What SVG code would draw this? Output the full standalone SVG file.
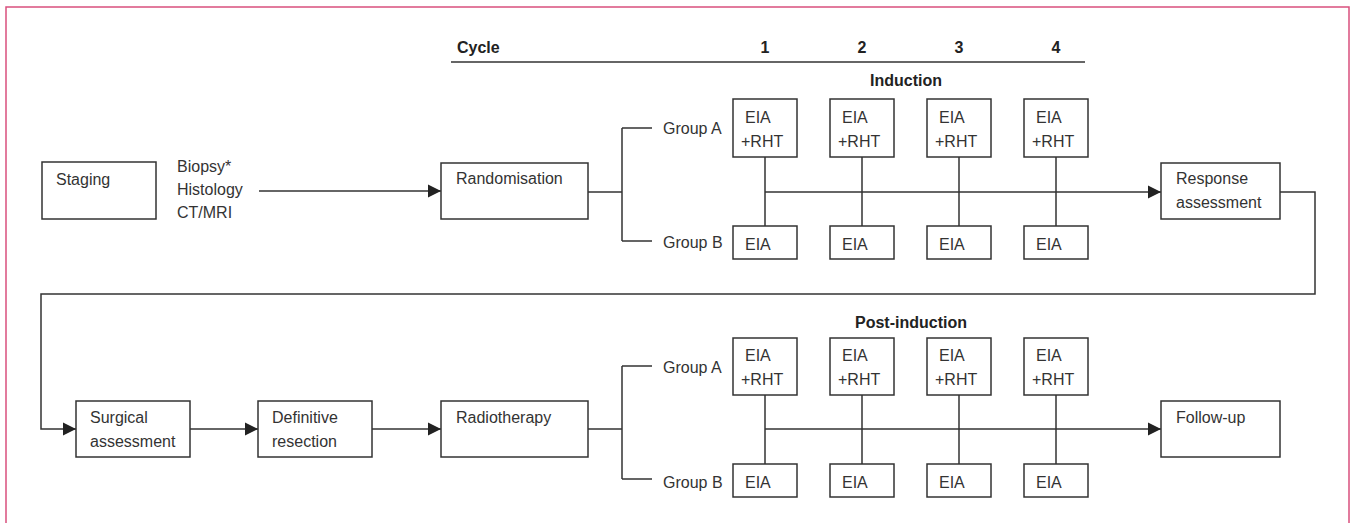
<svg xmlns="http://www.w3.org/2000/svg" width="1353" height="523" viewBox="0 0 1353 523">
<style>
.b{fill:#fff;stroke:#333;stroke-width:1.5}
.t{font-family:"Liberation Sans",Arial,sans-serif;font-size:16px;fill:#333}
.h{font-family:"Liberation Sans",Arial,sans-serif;font-size:16px;font-weight:bold;fill:#222}
.c{fill:none;stroke:#333;stroke-width:1.5}
</style>
<defs>
<marker id="ar" markerUnits="userSpaceOnUse" markerWidth="14" markerHeight="14" refX="13" refY="7" orient="auto">
<path d="M0,0.5 L13,7 L0,13.5 z" fill="#222"/>
</marker>
</defs>
<rect width="1353" height="523" fill="#fff"/>
<path d="M6,523 V7 H1349 V523" fill="none" stroke="#d9507e" stroke-width="1.5"/>

<g id="header">
<text class="h" x="457" y="53">Cycle</text>
<text class="h" x="765" y="53" text-anchor="middle">1</text>
<text class="h" x="862" y="53" text-anchor="middle">2</text>
<text class="h" x="959" y="53" text-anchor="middle">3</text>
<text class="h" x="1056" y="53" text-anchor="middle">4</text>
<line x1="451" y1="62" x2="1085" y2="62" stroke="#333" stroke-width="1.5"/>
<text class="h" x="906" y="86" text-anchor="middle">Induction</text>
<text class="h" x="911" y="328" text-anchor="middle">Post-induction</text>
</g>

<g id="connectors">
<line class="c" x1="259" y1="191" x2="441" y2="191" marker-end="url(#ar)"/>
<path class="c" d="M588,192 H622 M622,128 V241 M622,128 H652 M622,241 H652"/>
<path class="c" d="M765,157 V226 M862,157 V226 M959,157 V226 M1056,157 V226"/>
<line class="c" x1="765" y1="192" x2="1161" y2="192" marker-end="url(#ar)"/>
<path class="c" d="M1280,192 H1315 V294 H41 V429 H76" marker-end="url(#ar)"/>
<line class="c" x1="190" y1="429" x2="258" y2="429" marker-end="url(#ar)"/>
<line class="c" x1="372" y1="429" x2="441" y2="429" marker-end="url(#ar)"/>
<path class="c" d="M588,429 H622 M622,366 V479 M622,366 H652 M622,479 H652"/>
<path class="c" d="M765,395 V464 M862,395 V464 M959,395 V464 M1056,395 V464"/>
<line class="c" x1="765" y1="429" x2="1161" y2="429" marker-end="url(#ar)"/>
</g>

<g id="staging">
<rect class="b" x="42" y="162" width="114" height="57"/>
<text class="t" x="56" y="185">Staging</text>
</g>
<g id="staging-label">
<text class="t" x="177" y="172">Biopsy*</text>
<text class="t" x="177" y="195">Histology</text>
<text class="t" x="177" y="218">CT/MRI</text>
</g>

<g id="randomisation">
<rect class="b" x="441" y="163" width="147" height="56"/>
<text class="t" x="456" y="184">Randomisation</text>
</g>
<g id="groups-induction">
<text class="t" x="663" y="134">Group A</text>
<text class="t" x="663" y="248">Group B</text>
</g>

<g id="ind-a1"><rect class="b" x="733" y="99" width="64" height="58"/><text class="t" x="745" y="123">EIA</text><text class="t" x="741" y="147">+RHT</text></g>
<g id="ind-a2"><rect class="b" x="830" y="99" width="64" height="58"/><text class="t" x="842" y="123">EIA</text><text class="t" x="838" y="147">+RHT</text></g>
<g id="ind-a3"><rect class="b" x="927" y="99" width="64" height="58"/><text class="t" x="939" y="123">EIA</text><text class="t" x="935" y="147">+RHT</text></g>
<g id="ind-a4"><rect class="b" x="1024" y="99" width="64" height="58"/><text class="t" x="1036" y="123">EIA</text><text class="t" x="1032" y="147">+RHT</text></g>
<g id="ind-b1"><rect class="b" x="733" y="226" width="64" height="33"/><text class="t" x="745" y="250">EIA</text></g>
<g id="ind-b2"><rect class="b" x="830" y="226" width="64" height="33"/><text class="t" x="842" y="250">EIA</text></g>
<g id="ind-b3"><rect class="b" x="927" y="226" width="64" height="33"/><text class="t" x="939" y="250">EIA</text></g>
<g id="ind-b4"><rect class="b" x="1024" y="226" width="64" height="33"/><text class="t" x="1036" y="250">EIA</text></g>

<g id="response">
<rect class="b" x="1161" y="163" width="119" height="56"/>
<text class="t" x="1176" y="184">Response</text>
<text class="t" x="1176" y="208">assessment</text>
</g>

<g id="surgical">
<rect class="b" x="76" y="401" width="114" height="56"/>
<text class="t" x="90" y="423">Surgical</text>
<text class="t" x="90" y="447">assessment</text>
</g>
<g id="definitive">
<rect class="b" x="258" y="401" width="114" height="56"/>
<text class="t" x="272" y="423">Definitive</text>
<text class="t" x="272" y="447">resection</text>
</g>
<g id="radiotherapy">
<rect class="b" x="441" y="401" width="147" height="56"/>
<text class="t" x="456" y="423">Radiotherapy</text>
</g>
<g id="groups-post">
<text class="t" x="663" y="373">Group A</text>
<text class="t" x="663" y="488">Group B</text>
</g>

<g id="post-a1"><rect class="b" x="733" y="338" width="64" height="57"/><text class="t" x="745" y="361">EIA</text><text class="t" x="741" y="385">+RHT</text></g>
<g id="post-a2"><rect class="b" x="830" y="338" width="64" height="57"/><text class="t" x="842" y="361">EIA</text><text class="t" x="838" y="385">+RHT</text></g>
<g id="post-a3"><rect class="b" x="927" y="338" width="64" height="57"/><text class="t" x="939" y="361">EIA</text><text class="t" x="935" y="385">+RHT</text></g>
<g id="post-a4"><rect class="b" x="1024" y="338" width="64" height="57"/><text class="t" x="1036" y="361">EIA</text><text class="t" x="1032" y="385">+RHT</text></g>
<g id="post-b1"><rect class="b" x="733" y="464" width="64" height="33"/><text class="t" x="745" y="488">EIA</text></g>
<g id="post-b2"><rect class="b" x="830" y="464" width="64" height="33"/><text class="t" x="842" y="488">EIA</text></g>
<g id="post-b3"><rect class="b" x="927" y="464" width="64" height="33"/><text class="t" x="939" y="488">EIA</text></g>
<g id="post-b4"><rect class="b" x="1024" y="464" width="64" height="33"/><text class="t" x="1036" y="488">EIA</text></g>

<g id="followup">
<rect class="b" x="1161" y="401" width="119" height="56"/>
<text class="t" x="1176" y="423">Follow-up</text>
</g>
</svg>
